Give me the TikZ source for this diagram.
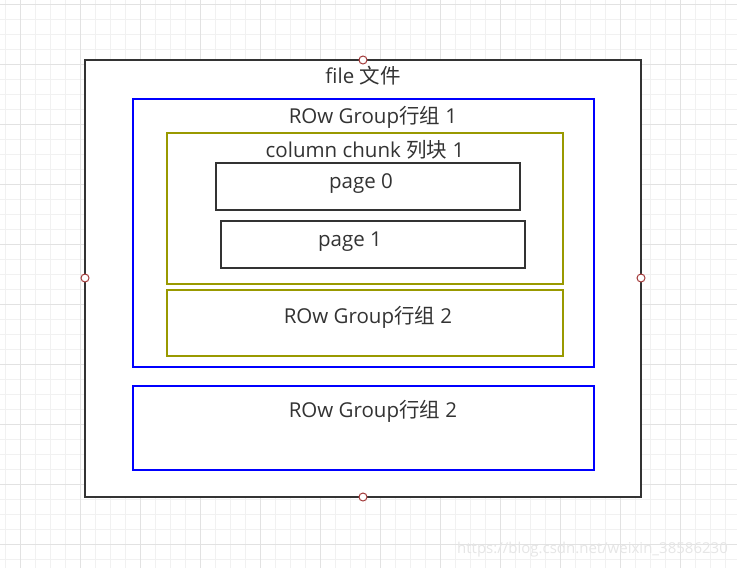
\documentclass[tikz,border=0pt]{standalone}
\usepackage{fontspec}
\setmainfont{Open Sans}
\newfontfamily\cjk{Noto Sans CJK SC}
\begin{document}
\begin{tikzpicture}[x=1pt,y=-1pt,
  frame/.style={draw=dark,line width=2pt},
  bluebox/.style={draw=blue,line width=2pt},
  olivebox/.style={draw=olive,line width=2pt},
  lbl/.style={text=dark,font=\fontsize{20.5}{22}\selectfont,inner sep=0pt,anchor=center},
  handle/.style={circle,draw=handlered,fill=white,line width=1pt,minimum size=8pt,inner sep=0pt}]
\definecolor{dark}{HTML}{333333}
\definecolor{olive}{HTML}{999900}
\definecolor{blue}{HTML}{0000FF}
\definecolor{handlered}{HTML}{A33A3A}
\definecolor{gridminor}{HTML}{F1F1F1}
\definecolor{gridmajor}{HTML}{E2E2E2}
\definecolor{wmark}{HTML}{E6E6E6}
\useasboundingbox (0,0) rectangle (737,568);
\fill[white] (0,0) rectangle (737,568);
% grid
\foreach \x in {5,20,...,737} \draw[gridminor,line width=1pt] (\x,0) -- (\x,568);
\foreach \y in {4,19,...,568} \draw[gridminor,line width=1pt] (0,\y) -- (737,\y);
\foreach \x in {20,80,...,737} \draw[gridmajor,line width=1pt] (\x,0) -- (\x,568);
\foreach \y in {4,64,...,568} \draw[gridmajor,line width=1pt] (0,\y) -- (737,\y);
% outer file
\draw[frame,fill=white] (85,60) rectangle (641,497);
\node[lbl] (tfile) at (363,76) {file {\cjk 文件}};
% row group 1
\draw[bluebox] (133,99) rectangle (594,367);
\node[lbl] (trg1) at (373,117) {ROw Group{\cjk 行组} 1};
% column chunk
\draw[olivebox] (167,133) rectangle (563,284);
\node[lbl] (tcc) at (365,150) {column chunk {\cjk 列块} 1};
% pages
\draw[frame] (216,163) rectangle (520,210);
\node[lbl] (tp0) at (361,184) {page 0};
\draw[frame] (221,221) rectangle (525,268);
\node[lbl] (tp1) at (350,242) {page 1};
% inner row group 2
\draw[olivebox] (167,290) rectangle (563,356);
\node[lbl] (trg2a) at (368,317) {ROw Group{\cjk 行组} 2};
% outer row group 2
\draw[bluebox] (133,386) rectangle (594,470);
\node[lbl] (trg2b) at (373,411) {ROw Group{\cjk 行组} 2};
% handles
\node[handle] (h1) at (363,60) {};
\node[handle] (h2) at (85,278) {};
\node[handle] (h3) at (641,278) {};
\node[handle] (h4) at (363,497) {};
% watermark
\node[text=wmark,font=\fontsize{15}{17}\selectfont,anchor=east,inner sep=0pt] (wm) at (728,550) {https://blog.csdn.net/weixin\_38586230};
\end{tikzpicture}
\end{document}
